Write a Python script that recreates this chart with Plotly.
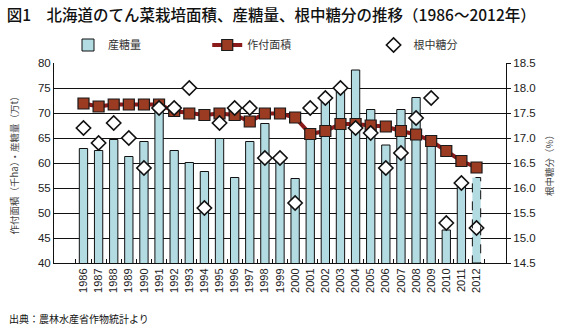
import plotly.graph_objects as go

years = [str(y) for y in range(1986, 2013)]
# 産糖量 (万t)
sugar_prod = [62.9, 62.5, 64.7, 61.3, 64.3, 71.5, 62.5, 60.1, 58.3, 64.9,
              57.1, 64.3, 67.9, 60.5, 56.9, 65.0, 72.3, 75.0, 78.6, 70.7,
              63.6, 70.7, 73.1, 64.0, 46.6, 56.0, 57.1]
# 作付面積 (千ha)
area = [71.9, 71.3, 71.7, 71.7, 71.7, 71.7, 70.4, 69.9, 69.6, 69.9,
        69.6, 68.3, 69.9, 69.9, 69.1, 65.8, 66.4, 67.8, 67.8, 67.5,
        67.3, 66.4, 65.7, 64.4, 62.4, 60.4, 59.1]
# 根中糖分 (%)
sugar_content = [17.2, 16.9, 17.3, 17.0, 16.4, 17.6, 17.6, 18.0, 15.6, 17.3,
                 17.6, 17.6, 16.6, 16.6, 15.7, 17.6, 17.8, 18.0, 17.2, 17.1,
                 16.4, 16.7, 17.4, 17.8, 15.3, 16.1, 15.2]

JP = "Noto Sans CJK JP"
NUM = "Liberation Sans, Arial, sans-serif"
BAR_W = 0.55
n = len(years)

fig = go.Figure()
fig.add_trace(go.Bar(
    x=years, y=sugar_prod, name="産糖量", width=BAR_W,
    marker=dict(color="#b2dbe2",
                line=dict(color="#111111", width=[1] * (n - 1) + [0])),
    legend="legend",
))
fig.add_trace(go.Scatter(
    x=years, y=area, name="作付面積", mode="lines+markers",
    line=dict(color="#8b1a1a", width=4),
    marker=dict(symbol="square", size=11, color="#9a3b22",
                line=dict(color="#1a1a1a", width=1.2)),
    legend="legend2",
))
fig.add_trace(go.Scatter(
    x=years, y=sugar_content, name="根中糖分", mode="markers", yaxis="y2",
    marker=dict(symbol="diamond", size=11, color="white",
                line=dict(color="#111111", width=1.6)),
    legend="legend3",
))

# dashed outline for the 2012 (provisional) bar
fig.add_shape(type="rect", xref="x", yref="y",
              x0=n - 1 - BAR_W / 2, x1=n - 1 + BAR_W / 2,
              y0=40, y1=sugar_prod[-1],
              line=dict(color="#111111", width=1, dash="dash"),
              layer="above")

leg_common = dict(orientation="h", yanchor="middle", y=1.09, xanchor="left",
                  bgcolor="rgba(0,0,0,0)", borderwidth=0,
                  font=dict(family=JP, size=11, color="#333333"))

fig.update_layout(
    width=565, height=330,
    margin=dict(l=54, r=57, t=63, b=67),
    paper_bgcolor="white", plot_bgcolor="white",
    title=dict(text="図1　北海道のてん菜栽培面積、産糖量、根中糖分の推移（1986～2012年）",
               x=0.012, xanchor="left", xref="container",
               y=0.952, yanchor="middle", yref="container",
               font=dict(family=JP, size=15.5, color="#111111", weight=500)),
    showlegend=True,
    legend=dict(x=0.031, **leg_common),
    legend2=dict(x=0.339, **leg_common),
    legend3=dict(x=0.707, **leg_common),
    xaxis=dict(type="category", tickangle=-90, showline=True, linecolor="#111111",
               linewidth=1, ticks="inside", tickson="boundaries", ticklen=4,
               tickcolor="#111111", showgrid=False,
               tickfont=dict(family=NUM, size=11, color="#222222")),
    yaxis=dict(range=[40, 80], dtick=5, showline=True, linecolor="#111111",
               linewidth=1, showgrid=True, gridcolor="#111111", gridwidth=1,
               zeroline=False, ticks="",
               tickfont=dict(family=NUM, size=11.5, color="#222222"),
               title=dict(text="作付面積（千ha）・産糖量（万t）", standoff=17,
                          font=dict(family=JP, size=9.5, color="#444444"))),
    yaxis2=dict(range=[14.5, 18.5], dtick=0.5, tickformat=".1f", overlaying="y",
                side="right", showline=True, linecolor="#111111", linewidth=1,
                showgrid=False, zeroline=False, ticks="outside", ticklen=4,
                tickcolor="#111111",
                tickfont=dict(family=NUM, size=11.5, color="#222222"),
                title=dict(text="根中糖分（%）", standoff=11,
                           font=dict(family=JP, size=9.5, color="#444444"))),
    bargap=0.45,
    annotations=[dict(text="出典：農林水産省作物統計より", xref="paper", yref="paper",
                      x=-0.103, y=-0.275, xanchor="left", yanchor="middle",
                      showarrow=False,
                      font=dict(family=JP, size=10, color="#111111"))],
)

fig.write_html("out.html")
